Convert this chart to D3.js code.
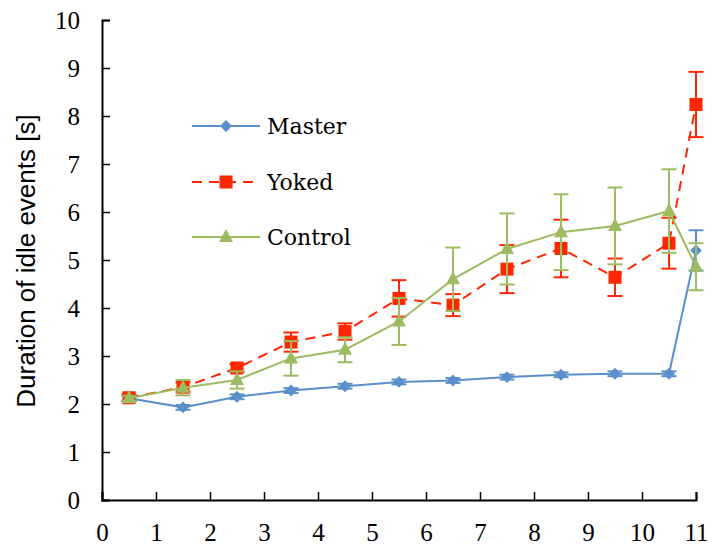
<!DOCTYPE html>
<html>
<head>
<meta charset="utf-8">
<script src="https://cdn.jsdelivr.net/npm/d3@7"></script>
<style>
  body { margin: 0; background: #fff; }
  svg { display: block; }
</style>
</head>
<body>
<svg id="chart" width="712" height="546"></svg>
<script>
// x positions of the points
var xs = [0.5, 1.5, 2.5, 3.5, 4.5, 5.5, 6.5, 7.5, 8.5, 9.5, 10.5, 11];

var masterVals = [2.12, 1.93, 2.15, 2.28, 2.37, 2.46, 2.49, 2.56, 2.61, 2.63, 2.63, 5.2];
var masterErr  = [0.05, 0.05, 0.05, 0.05, 0.05, 0.05, 0.05, 0.05, 0.05, 0.05, 0.05, 0.42];

var yokedVals = [2.13, 2.35, 2.75, 3.29, 3.51, 4.2, 4.06, 4.81, 5.24, 4.64, 5.35, 8.24];
var yokedErr  = [0.07, 0.1, 0.08, 0.2, 0.17, 0.38, 0.23, 0.5, 0.6, 0.39, 0.53, 0.68];

var controlVals = [2.12, 2.34, 2.5, 2.95, 3.13, 3.72, 4.6, 5.23, 5.58, 5.71, 6.02, 4.86];
var controlErr  = [0.05, 0.16, 0.18, 0.36, 0.26, 0.49, 0.66, 0.74, 0.79, 0.8, 0.87, 0.49];

var xTicks = [0, 1, 2, 3, 4, 5, 6, 7, 8, 9, 10, 11];
var yTicks = [0, 1, 2, 3, 4, 5, 6, 7, 8, 9, 10];

var series = [
  { name: "Master", vals: masterVals, err: masterErr, color: "#5b8fca", dash: null, marker: "diamond" },
  { name: "Yoked", vals: yokedVals, err: yokedErr, color: "#ff2600", dash: "10,7", marker: "square" },
  { name: "Control", vals: controlVals, err: controlErr, color: "#9dbb61", dash: null, marker: "triangle" }
];

var svg = d3.select("#chart");
var x = d3.scaleLinear().domain([0, 11]).range([102, 696]);
var y = d3.scaleLinear().domain([0, 10]).range([500, 20]);

var serif = "'DejaVu Serif', 'Liberation Serif', serif";
var tickFont = "'Liberation Serif', 'DejaVu Serif', serif";

// axes
var xAxis = svg.append("g").attr("transform", "translate(0,500)")
  .call(d3.axisBottom(x).tickValues(xTicks).tickSize(-8).tickPadding(23).tickFormat(d3.format("d")));
var yAxis = svg.append("g").attr("transform", "translate(102,0)")
  .call(d3.axisLeft(y).tickValues(yTicks).tickSize(-8).tickPadding(22).tickFormat(d3.format("d")));

[xAxis, yAxis].forEach(function(a) {
  a.select(".domain").attr("stroke", "#000").attr("stroke-width", 2);
  a.selectAll(".tick line").attr("stroke", "#000").attr("stroke-width", 1.5);
  a.selectAll(".tick text").attr("fill", "#000")
    .style("font-family", tickFont).style("font-size", "25px");
});

svg.append("text")
  .attr("transform", "translate(35,261) rotate(-90)")
  .attr("text-anchor", "middle")
  .style("font-family", "'Liberation Sans', Arial, sans-serif")
  .style("font-size", "26px")
  .text("Duration of idle events [s]");

function drawMarker(g, type, cx, cy, color) {
  if (type === "diamond") {
    g.append("path").attr("d", d3.symbol().type(d3.symbolDiamond2).size(90)())
      .attr("transform", "translate(" + cx + "," + cy + ")").attr("fill", color);
  } else if (type === "square") {
    g.append("rect").attr("x", cx - 6.5).attr("y", cy - 6.5).attr("width", 13).attr("height", 13)
      .attr("fill", color);
  } else {
    g.append("path").attr("d", "M" + cx + "," + (cy - 8) + "L" + (cx + 7) + "," + (cy + 5) + "L" + (cx - 7) + "," + (cy + 5) + "Z")
      .attr("fill", color);
  }
}

var line = d3.line()
  .x(function(d) { return x(d.x); })
  .y(function(d) { return y(d.v); });

series.forEach(function(s) {
  var g = svg.append("g");
  var pts = xs.map(function(xv, i) { return { x: xv, v: s.vals[i], e: s.err[i] }; });

  // error bars
  pts.forEach(function(p) {
    var px = x(p.x);
    g.append("line").attr("x1", px).attr("x2", px).attr("y1", y(p.v + p.e)).attr("y2", y(p.v - p.e))
      .attr("stroke", s.color).attr("stroke-width", 2);
    [p.v + p.e, p.v - p.e].forEach(function(val) {
      g.append("line").attr("x1", px - 7.5).attr("x2", px + 7.5).attr("y1", y(val)).attr("y2", y(val))
        .attr("stroke", s.color).attr("stroke-width", 2);
    });
  });

  g.append("path").datum(pts).attr("d", line)
    .attr("fill", "none").attr("stroke", s.color).attr("stroke-width", 2)
    .attr("stroke-dasharray", s.dash);

  pts.forEach(function(p) {
    drawMarker(g, s.marker, x(p.x), y(p.v), s.color);
  });
});

// legend
var legendY = [126, 182, 237];
series.forEach(function(s, i) {
  var g = svg.append("g");
  g.append("line").attr("x1", 192).attr("x2", 260).attr("y1", legendY[i]).attr("y2", legendY[i])
    .attr("stroke", s.color).attr("stroke-width", 2).attr("stroke-dasharray", s.dash);
  drawMarker(g, s.marker, 226, legendY[i], s.color);
  g.append("text").attr("x", 267).attr("y", legendY[i] + 8)
    .style("font-family", serif).style("font-size", "22px")
    .text(s.name);
});
</script>
</body>
</html>
